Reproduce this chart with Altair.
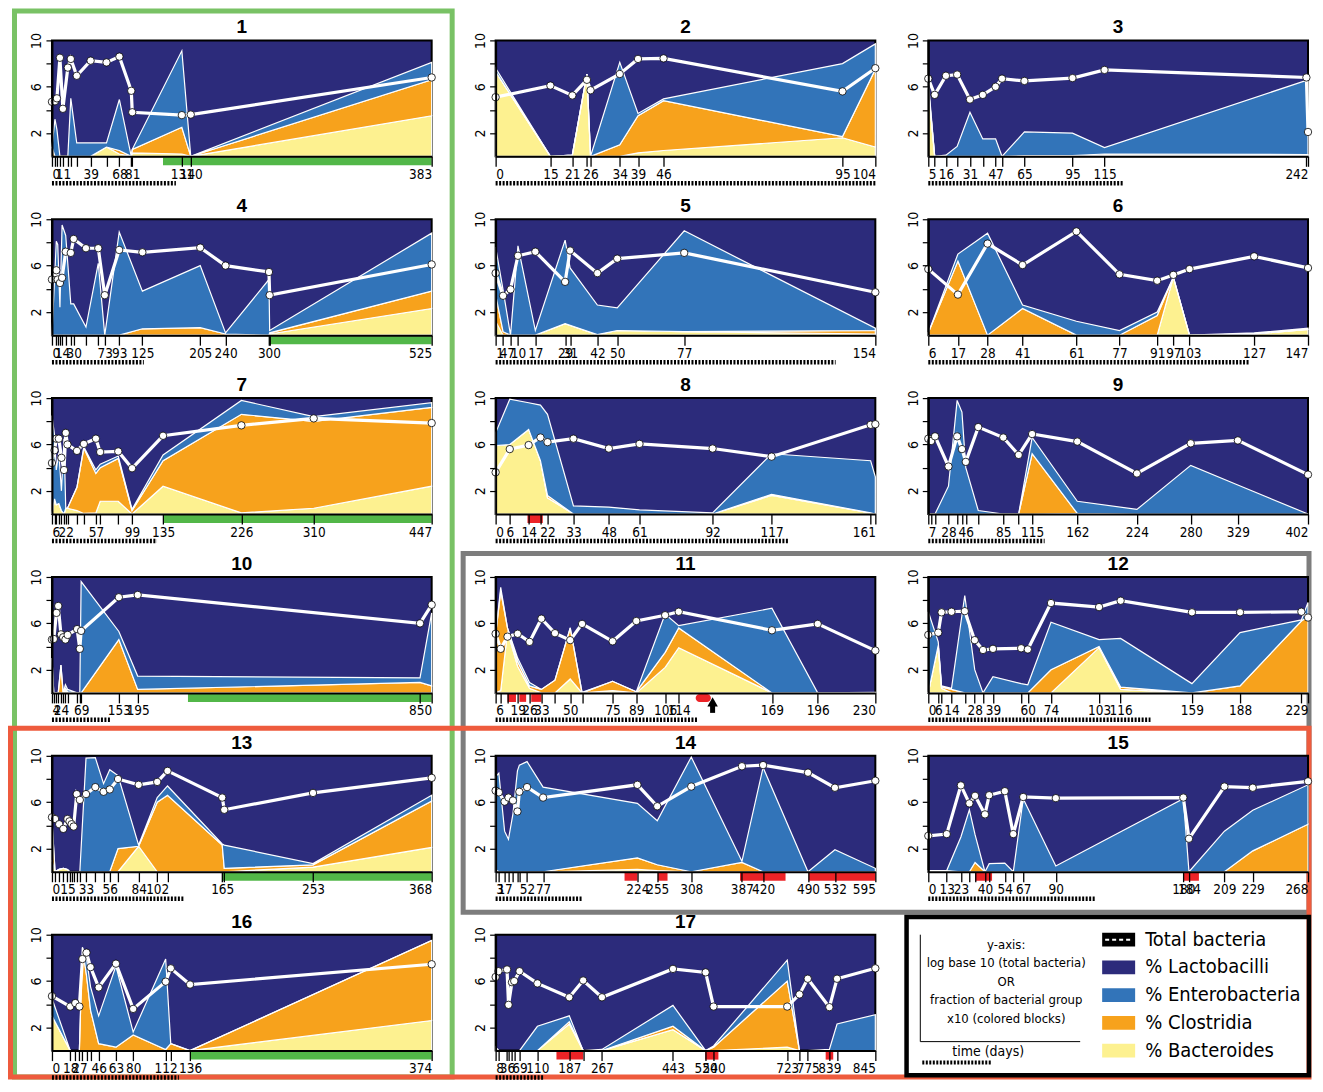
import altair as alt
import pandas as pd

NAVY = "#2c2b7b"
BLUE = "#3274b9"
ORANGE = "#f7a21c"
YELLOW = "#fdf190"
GREEN = "#52b748"
RED = "#ec2327"
BOX_GREEN = "#79c265"
BOX_RED = "#ee5b3d"
BOX_GRAY = "#7d7d7d"
FONT = "Liberation Sans Narrow, Arial Narrow, DejaVu Sans Condensed, Liberation Sans, sans-serif"
TFONT = "Liberation Sans, Arial, sans-serif"

W, H = 380, 116
EXTRA1 = 11          # extra empty room to the right of the first column
COL_GAP, ROW_GAP = 53, 63
DASH_Y = H + 27

# ---------------- data ----------------
P1_DAYS = [0, 3, 5, 8, 11, 16, 19, 25, 39, 55, 68, 80, 81, 131, 140, 383]
P1_TOTAL = [4.7, 4.75, 5.0, 8.5, 4.1, 7.65, 8.4, 6.95, 8.25, 8.1, 8.6, 5.65, 3.8, 3.55, 3.6, 6.8]
P1_BAC = [0, 0, 0, 0, 0, 0, 0, 0, 0, 0.8, 0.2, 0, 0.3, 0.2, 0, 3.5]
P1_CLO = [0.8, 0, 0, 0, 0, 0, 0, 0, 0, 0, 0.3, 0, 0.3, 2.3, 0, 3.1]
P1_ENT = [0, 3.2, 2.3, 0, 0, 0, 5.0, 1.15, 1.15, 0.35, 4.4, 0, 0, 6.6, 0, 1.5]
P1_LABELS = [0, 11, 39, 68, 81, 131, 140, 383]
P1_GREEN = [(112, 383)]
P1_DASH = 125

P2_DAYS = [0, 15, 21, 25, 26, 34, 39, 46, 95, 104]
P2_TOTAL = [5.1, 6.1, 5.25, 6.6, 5.7, 7.1, 8.4, 8.45, 5.6, 7.6]
P2_BAC = [7.3, 0, 0.1, 7.1, 0, 0, 0.3, 0.5, 1.6, 0.8]
P2_CLO = [0, 0, 0, 0, 0, 1.0, 3.2, 4.3, 0.1, 6.7]
P2_ENT = [0.3, 0, 0, 0, 0, 7.1, 0.2, 0.15, 6.3, 2.2]
P2_LABELS = [0, 15, 21, 26, 34, 39, 46, 95, 104]
P2_DASH = 104

P3_DAYS = [5, 9, 16, 23, 31, 39, 47, 51, 65, 95, 115, 241, 242]
P3_TOTAL = [6.7, 5.3, 6.95, 7.05, 4.9, 5.3, 6.0, 6.7, 6.5, 6.75, 7.45, 6.8, 2.1]
P3_BAC = [6.0, 0, 0, 0, 0, 0, 0, 0, 0.05, 0.05, 0.05, 0.05, 0.05]
P3_CLO = [0, 0, 0, 0, 0, 0, 0, 0, 0, 0, 0.15, 0.1, 0.1]
P3_ENT = [0.5, 0, 0.1, 0.85, 3.8, 1.5, 1.5, 0, 2.05, 1.95, 0.55, 6.4, 6.4]
P3_LABELS = [5, 16, 31, 47, 65, 95, 115, 242]
P3_DASH = 127

P4_DAYS = [0, 6, 8, 11, 14, 19, 26, 30, 47, 64, 73, 93, 125, 205, 240, 300, 301, 525]
P4_TOTAL = [4.8, 5.6, 4.8, 4.5, 4.95, 7.2, 7.1, 8.3, 7.5, 7.5, 3.45, 7.35, 7.15, 7.55, 6.0, 5.45, 3.45, 6.1]
P4_BAC = [0, 0, 0, 0, 0, 0, 0, 0, 0, 0, 0, 0, 0, 0, 0, 0, 0.1, 2.3]
P4_CLO = [0, 0, 0, 0, 0, 0, 0, 0, 0, 0, 0, 0, 0.55, 0.65, 0.1, 0, 0.1, 1.5]
P4_ENT = [0, 8.1, 7.8, 2.4, 9.5, 8.6, 2.7, 2.7, 0.7, 6.2, 0, 8.9, 3.25, 5.35, 0.1, 4.8, 0.2, 5.0]
P4_LABELS = [0, 14, 30, 73, 93, 125, 205, 240, 300, 525]
P4_GREEN = [(300, 525)]
P4_DASH = 127

P5_DAYS = [1, 4, 7, 10, 17, 29, 31, 42, 50, 77, 154]
P5_TOTAL = [5.35, 3.4, 3.95, 6.85, 7.2, 4.6, 7.3, 5.35, 6.6, 7.1, 3.7]
P5_BAC = [1.2, 0, 0, 0, 0, 1.0, 0.85, 0.05, 0.4, 0.3, 0.1]
P5_CLO = [2.3, 0.3, 0, 0, 0, 0, 0, 0, 0, 0, 0.3]
P5_ENT = [4.1, 3.6, 0, 7.7, 0.4, 7.2, 4.95, 2.55, 1.95, 8.7, 0.2]
P5_LABELS = [1, 4, 7, 10, 17, 29, 31, 42, 50, 77, 154]
P5_DASH = 138

P6_DAYS = [6, 17, 28, 41, 61, 77, 91, 97, 103, 127, 147]
P6_TOTAL = [5.7, 3.5, 7.9, 6.05, 8.95, 5.25, 4.7, 5.2, 5.7, 6.8, 5.8]
P6_BAC = [0, 0, 0, 0, 0, 0, 0, 5.0, 0, 0.1, 0.5]
P6_CLO = [0.2, 6.4, 0, 2.3, 0, 0, 1.7, 0, 0, 0, 0]
P6_ENT = [0, 0.6, 8.8, 0.3, 1.2, 0.4, 0.3, 0, 0, 0.1, 0.1]
P6_LABELS = [6, 17, 28, 41, 61, 77, 91, 97, 103, 127, 147]
P6_DASH = 125

P7_DAYS = [6, 9, 11, 14, 17, 20, 22, 24, 35, 43, 57, 62, 83, 99, 135, 226, 310, 447]
P7_TOTAL = [4.4, 5.5, 6.5, 6.5, 4.85, 3.8, 7.0, 6.0, 5.45, 6.05, 6.5, 5.35, 5.4, 3.95, 6.75, 7.65, 8.25, 7.85]
P7_BAC = [0, 1.3, 0.8, 0.9, 0.3, 0, 0.5, 0.5, 0.3, 0.05, 0.1, 1.1, 1.1, 0, 2.4, 0.1, 0.5, 2.4]
P7_CLO = [0, 0, 0, 0, 0, 0, 0, 0, 2.0, 5.65, 3.4, 2.9, 3.7, 0.3, 2.2, 8.5, 7.5, 6.8]
P7_ENT = [8.5, 5.5, 3.0, 4.4, 1.7, 6.5, 0, 0, 0, 0.1, 0.3, 0.3, 0.2, 0.1, 0.5, 1.2, 0.4, 0.4]
P7_LABELS = [6, 22, 57, 99, 135, 226, 310, 447]
P7_GREEN = [(135, 447)]
P7_DASH = 128

P8_DAYS = [0, 6, 14, 19, 22, 33, 48, 61, 92, 117, 159, 161]
P8_TOTAL = [3.6, 5.6, 5.95, 6.6, 6.2, 6.5, 5.65, 6.05, 5.65, 4.95, 7.7, 7.75]
P8_BAC = [5.9, 6.0, 7.3, 4.6, 1.4, 0, 0, 0, 0, 1.6, 0.1, 0]
P8_CLO = [0, 0, 0, 0, 0.2, 0, 0, 0, 0, 0.1, 0, 0]
P8_ENT = [1.1, 3.9, 2.3, 4.8, 7.0, 0.7, 0.6, 0.35, 0.1, 3.5, 4.5, 3.2]
P8_LABELS = [0, 6, 14, 22, 33, 48, 61, 92, 117, 161]
P8_RED = [(13.5, 20)]
P8_DASH = 124

P9_DAYS = [7, 10, 14, 28, 37, 42, 46, 59, 85, 101, 115, 162, 224, 280, 329, 402]
P9_TOTAL = [6.5, 6.3, 6.7, 4.1, 6.7, 5.6, 4.5, 7.5, 6.6, 5.1, 6.9, 6.25, 3.5, 6.1, 6.35, 3.4]
P9_BAC = [0, 0, 0, 0, 0, 0, 0, 0, 0, 0, 0, 0.05, 0, 0, 0, 0]
P9_CLO = [0, 0, 0, 0, 0, 0, 0, 0, 0, 0, 5.2, 0, 0, 0, 0, 0]
P9_ENT = [0, 0, 0, 2.4, 9.8, 8.8, 4.0, 0.3, 0, 0, 1.4, 1.05, 0.4, 4.2, 2.5, 0]
P9_LABELS = [7, 28, 46, 85, 115, 162, 224, 280, 329, 402]
P9_DASH = 128

P10_DAYS = [4, 8, 14, 18, 24, 29, 34, 39, 60, 66, 69, 153, 195, 824, 850]
P10_TOTAL = [4.6, 4.65, 6.9, 7.5, 5.05, 4.8, 4.6, 5.0, 5.5, 3.8, 5.35, 8.25, 8.45, 6.0, 7.6]
P10_BAC = [0, 0, 0, 0, 0, 0, 0.2, 0, 0, 0, 0, 0, 0, 0, 0]
P10_CLO = [3.0, 0, 0, 0, 2.4, 0, 0.2, 0.1, 0, 0, 0, 4.6, 0.3, 0.9, 0.6]
P10_ENT = [0, 0, 0, 0, 0, 0, 0.3, 0.2, 0, 0, 9.6, 0.7, 1.15, 0.4, 6.3]
P10_LABELS = [4, 24, 69, 153, 195, 850]
P10_GREEN = [(307, 850)]
P10_DASH = 136

P11_DAYS = [6, 9, 13, 19, 26, 33, 41, 50, 57, 75, 89, 106, 114, 169, 196, 230]
P11_TOTAL = [5.1, 3.8, 4.85, 5.1, 4.4, 6.4, 5.15, 4.55, 5.95, 4.45, 6.2, 6.7, 7.0, 5.4, 5.95, 3.65]
P11_BAC = [0, 0.2, 5.3, 2.3, 0.4, 0, 0, 1.2, 0, 0.2, 0, 2.2, 3.9, 0, 0, 0]
P11_CLO = [5.0, 8.6, 0.3, 0.4, 0.2, 0.3, 1.1, 4.4, 0, 0.8, 0.1, 1.3, 1.7, 0, 0, 0]
P11_ENT = [0, 0.3, 0, 0.3, 0.3, 0, 0, 0, 0.05, 0, 0, 3.3, 0.2, 7.3, 0, 0.05]
P11_LABELS = [6, 19, 26, 33, 50, 75, 89, 106, 114, 169, 196, 230]
P11_RED = [(13, 18), (20, 24), (27, 33)]
P11_OVAL = (124, 133)
P11_ARROW = 134
P11_DASH = 125

P12_DAYS = [0, 6, 8, 14, 22, 28, 33, 39, 56, 60, 74, 103, 116, 159, 188, 225, 229]
P12_TOTAL = [5.0, 5.2, 6.95, 7.0, 7.05, 4.55, 3.7, 3.8, 3.85, 3.75, 7.75, 7.4, 7.95, 6.95, 6.95, 7.0, 6.5]
P12_BAC = [0, 4.1, 0.4, 0, 0, 0, 0, 0, 0, 0, 0, 3.9, 0.3, 0, 0, 0, 0]
P12_CLO = [0, 0, 0.1, 0.3, 0, 0, 0, 0, 0, 0, 2.0, 0.1, 0.2, 0, 0.6, 6.2, 6.6]
P12_ENT = [7.0, 0.3, 0.1, 0.1, 8.4, 2.0, 0, 1.4, 0.8, 0.7, 4.1, 0.6, 4.2, 0.8, 4.6, 0.1, 1.2]
P12_LABELS = [0, 6, 14, 28, 39, 60, 74, 103, 116, 159, 188, 229]
P12_DASH = 134

P13_DAYS = [0, 3, 7, 11, 15, 17, 19, 21, 24, 27, 33, 42, 50, 56, 64, 84, 102, 112, 165, 167, 253, 368]
P13_TOTAL = [4.7, 4.55, 4.1, 3.7, 4.55, 4.35, 4.1, 3.9, 6.7, 6.2, 6.7, 7.3, 6.9, 7.1, 8.0, 7.5, 7.75, 8.7, 6.4, 5.35, 6.8, 8.1]
P13_BAC = [1.0, 0, 0.2, 0.3, 0.2, 0, 0, 0, 0, 0, 0, 0, 0, 0, 0, 2.2, 0, 0, 0, 0, 0.4, 2.1]
P13_CLO = [3.5, 0, 0, 0, 0, 0, 0, 0, 0, 0, 0, 0, 0, 0, 2.0, 0, 6.0, 6.6, 2.3, 0.3, 0.2, 4.0]
P13_ENT = [0, 0, 0, 0, 0, 0, 0, 0, 0, 0, 9.8, 9.85, 7.6, 8.8, 6.3, 0.1, 0.4, 0.8, 0.1, 2.0, 0.1, 0.5]
P13_LABELS = [0, 15, 33, 56, 84, 102, 165, 253, 368]
P13_GREEN = [(165, 368)]
P13_DASH = 128

P14_DAYS = [3, 8, 17, 23, 30, 37, 40, 52, 77, 224, 255, 308, 387, 420, 490, 532, 595]
P14_TOTAL = [7.0, 6.85, 6.05, 6.4, 6.15, 5.2, 6.9, 7.3, 6.4, 7.5, 5.65, 7.35, 9.1, 9.2, 8.55, 7.25, 7.85]
P14_BAC = [0.2, 0, 0, 0, 0, 0, 0, 0, 0, 0.2, 0.1, 0, 0, 0, 0, 0, 0]
P14_CLO = [0, 0, 0, 0, 0, 0, 0, 0, 0, 1.0, 0.5, 0, 0.8, 0, 0, 0, 0]
P14_ENT = [8.0, 8.5, 3.5, 2.8, 5.0, 8.7, 9.2, 9.5, 7.3, 4.7, 3.8, 9.9, 0.1, 9.0, 0, 1.9, 0.3]
P14_LABELS = [3, 17, 52, 77, 224, 255, 308, 387, 420, 490, 532, 595]
P14_RED = [(204, 224), (256, 271), (384, 455), (491, 595)]
P14_DASH = 137

P15_DAYS = [0, 13, 23, 29, 33, 40, 43, 54, 60, 67, 90, 180, 184, 209, 229, 268]
P15_TOTAL = [3.1, 3.25, 7.45, 5.9, 6.55, 4.95, 6.6, 6.95, 3.25, 6.45, 6.35, 6.4, 2.85, 7.35, 7.25, 7.8]
P15_BAC = [0.1, 0.1, 0, 0, 0, 0, 0, 0, 0, 0, 0, 0, 0, 0, 0, 0]
P15_CLO = [0, 0, 0, 0, 0.8, 0, 0, 0, 0, 0, 0, 0, 0, 0, 1.8, 4.1]
P15_ENT = [0, 0, 3.0, 5.35, 2.4, 0, 0.7, 0.75, 0, 6.3, 0.5, 6.3, 0, 3.5, 3.5, 3.4]
P15_LABELS = [0, 13, 23, 40, 54, 67, 90, 180, 184, 209, 229, 268]
P15_RED = [(33, 45), (180, 191)]
P15_DASH = 118

P16_DAYS = [0, 18, 23, 27, 30, 34, 38, 46, 63, 80, 112, 117, 136, 374]
P16_TOTAL = [4.7, 3.8, 4.1, 3.8, 7.9, 8.45, 7.2, 5.45, 7.5, 3.6, 5.95, 7.1, 5.7, 7.45]
P16_BAC = [3.0, 0, 0, 0, 0, 0, 0, 0, 0, 0, 0, 0, 0, 2.6]
P16_CLO = [0, 0, 0, 0, 8.9, 6.5, 3.5, 0.6, 0.3, 1.35, 0.1, 0.6, 0, 6.9]
P16_ENT = [1.5, 0, 0, 0, 0, 1.5, 2.0, 2.4, 7.0, 0.25, 7.8, 0, 0, 0]
P16_LABELS = [0, 18, 27, 46, 63, 80, 112, 136, 374]
P16_GREEN = [(136, 374)]
P16_DASH = 125

P17_DAYS = [8, 15, 36, 40, 49, 55, 69, 110, 187, 221, 267, 443, 520, 540, 723, 754, 775, 839, 840, 845]
P17_TOTAL = [6.35, 6.85, 7.0, 3.95, 5.9, 6.0, 6.85, 5.8, 4.6, 6.05, 4.6, 7.05, 6.75, 3.8, 3.8, 4.85, 6.2, 3.75, 6.2, 7.1]
P17_BAC = [0.3, 0, 0, 0, 0, 0, 0, 0, 2.3, 0, 0, 1.8, 0, 0, 0.3, 0, 0, 0, 0, 0]
P17_CLO = [0, 0, 0, 0, 0, 0, 0, 0, 0.2, 0, 0, 0.3, 0, 0.3, 5.7, 0, 0, 0, 0, 0]
P17_ENT = [0, 0, 0, 0, 0, 0, 0, 2.1, 0.5, 0, 0.1, 1.8, 0, 0.1, 1.8, 0, 0, 0.1, 2.3, 3.1]
P17_LABELS = [8, 36, 69, 110, 187, 267, 443, 520, 540, 723, 775, 839, 845]
P17_RED = [(156, 221), (519, 552), (828, 839.5)]
P17_DASH = 126
# the time axis of panel 17 is not linear in the figure: break points of the axis
P17_BREAKS = [8, 36, 69, 110, 187, 267, 443, 520, 540, 723, 775, 839, 845]
P17_BREAK_FRAC = [0.0, 0.030, 0.063, 0.110, 0.194, 0.280, 0.467, 0.553, 0.574, 0.768, 0.822, 0.879, 1.0]

LEGEND_LABELS = ["Total bacteria", "% Lactobacilli", "% Enterobacteria", "% Clostridia", "% Bacteroides"]
LEGEND_COLORS = ["black", NAVY, BLUE, ORANGE, YELLOW]
NOTE_LINES = ["y-axis:", "log base 10 (total bacteria)", "OR", "fraction of bacterial group", "x10 (colored blocks)"]
TIME_NOTE = "time (days)"

ONE = pd.DataFrame({"k": [0]})

YSCALE = alt.Scale(domain=[0, 10], nice=False, zero=False)
YAXIS = alt.Axis(values=[2, 4, 6, 8, 10], labelExpr="datum.value % 4 == 2 ? datum.label : ''",
                 labelAngle=270, labelAlign="center", labelBaseline="bottom", labelFontSize=14,
                 labelFont=FONT, labelPadding=2, tickSize=6, tickWidth=1.2, tickColor="black",
                 domainColor="black", domainWidth=2, grid=False, title=None, zindex=1,
                 labelColor="black")


def frame(x, x2, y, y2, color, sw):
    return alt.Chart(ONE).mark_rect(filled=False, color=color, strokeWidth=sw).encode(
        x=alt.value(x), x2=alt.value(x2), y=alt.value(y), y2=alt.value(y2))


def make_panel(num, days, total, bac, clo, ent, labels, dash_end, green=(), red=(),
               xscale=None, oval=None, arrow=None, deco=(), cell_w=W):
    n = len(days)
    t1 = list(bac)
    t2 = [b + c for b, c in zip(bac, clo)]
    t3 = [b + c + e for b, c, e in zip(bac, clo, ent)]
    df = pd.DataFrame({"day": days, "total": total, "t0": [0.0] * n, "t1": t1,
                       "t2": t2, "t3": t3, "idx": list(range(n))})
    if xscale is None:
        xscale = alt.Scale(domain=[days[0], days[-1]], range=[0, W], nice=False, zero=False)
    ticks = sorted(set(days))
    xaxis = alt.Axis(values=ticks, format="d",
                     labelExpr=f"indexof({list(labels)}, datum.value) >= 0 ? datum.label : ''",
                     grid=False, tickSize=10, tickWidth=1.3, tickColor="black",
                     domainColor="black", domainWidth=2, labelFontSize=13.5, labelFont=FONT,
                     labelPadding=1, labelOverlap=False, title=None, zindex=1, labelColor="black")

    def X(f):
        return alt.X(f"{f}:Q", scale=xscale, axis=xaxis)

    def Y(f):
        return alt.Y(f"{f}:Q", scale=YSCALE, axis=YAXIS)

    base = alt.Chart(df)
    layers = [
        # plot background (remaining share = Lactobacilli) and frame
        alt.Chart(ONE).mark_rect(color=NAVY, stroke="black", strokeWidth=2).encode(
            x=alt.value(0), x2=alt.value(W), y=alt.value(0), y2=alt.value(H)),
        base.mark_area(color=YELLOW, stroke="white", strokeWidth=1.2).encode(
            x=X("day"), y=Y("t0"), y2=alt.Y2("t1")),
        base.mark_area(color=ORANGE, stroke="white", strokeWidth=1.2).encode(
            x=X("day"), y=Y("t1"), y2=alt.Y2("t2")),
        base.mark_area(color=BLUE, stroke="white", strokeWidth=1.2).encode(
            x=X("day"), y=Y("t2"), y2=alt.Y2("t3")),
    ]
    bars = [(s, e, GREEN) for s, e in green] + [(s, e, RED) for s, e in red]
    if bars:
        bdf = pd.DataFrame({"s": [b[0] for b in bars], "e": [b[1] for b in bars],
                            "c": [b[2] for b in bars]})
        layers.append(alt.Chart(bdf).mark_rect().encode(
            x=X("s"), x2=alt.X2("e"), y=alt.value(H + 1), y2=alt.value(H + 9),
            color=alt.Color("c:N", scale=None)))
    if oval is not None:
        odf = pd.DataFrame({"s": [oval[0]], "e": [oval[1]]})
        layers.append(alt.Chart(odf).mark_rect(color=RED, cornerRadius=4).encode(
            x=X("s"), x2=alt.X2("e"), y=alt.value(H + 1), y2=alt.value(H + 9)))
    if arrow is not None:
        adf = pd.DataFrame({"s": [arrow]})
        layers.append(alt.Chart(adf).mark_point(shape="triangle-up", filled=True, color="black",
                                                size=110, opacity=1).encode(
            x=X("s"), y=alt.value(H + 9)))
        layers.append(alt.Chart(adf).mark_rule(color="black", strokeWidth=5).encode(
            x=X("s"), y=alt.value(H + 13), y2=alt.value(H + 20)))
    ddf = pd.DataFrame({"s": [days[0]], "e": [dash_end]})
    layers.append(alt.Chart(ddf).mark_rule(color="black", strokeWidth=4.5,
                                           strokeDash=[2, 1.5]).encode(
        x=X("s"), x2=alt.X2("e"), y=alt.value(DASH_Y)))
    layers.append(base.mark_line(color="white", strokeWidth=3.2).encode(
        x=X("day"), y=Y("total"), order=alt.Order("idx:Q")))
    layers.append(base.mark_circle(color="white", stroke="black", strokeWidth=0.8,
                                   size=55, opacity=1).encode(x=X("day"), y=Y("total")))
    # panel number
    layers.append(alt.Chart(pd.DataFrame({"n": [str(num)]})).mark_text(
        font=TFONT, fontSize=19, fontWeight="bold", color="black", baseline="bottom").encode(
        x=alt.value(W / 2), y=alt.value(-3), text="n:N"))
    for d in deco:
        layers.append(frame(*d))
    return alt.layer(*layers).properties(width=cell_w, height=H)


def make_legend():
    ldf = pd.DataFrame({"label": LEGEND_LABELS, "color": LEGEND_COLORS})
    yl = alt.Y("label:N", sort=LEGEND_LABELS, axis=None,
               scale=alt.Scale(range=[5, 116], padding=0))
    layers = [
        frame(-21.75, 381, -17.75, 140.75, "black", 4.5),
        alt.Chart(ONE).mark_rule(color="black", strokeWidth=1).encode(
            x=alt.value(-8), y=alt.value(0), y2=alt.value(107)),
        alt.Chart(ONE).mark_rule(color="black", strokeWidth=1).encode(
            x=alt.value(-8), x2=alt.value(152), y=alt.value(107)),
        alt.Chart(ONE).mark_rule(color="black", strokeWidth=4, strokeDash=[2, 1.5]).encode(
            x=alt.value(-6), x2=alt.value(63), y=alt.value(128)),
        alt.Chart(ONE).mark_text(font=FONT, fontSize=14, color="black").encode(
            x=alt.value(60), y=alt.value(117), text=alt.value(TIME_NOTE)),
    ]
    for i, line in enumerate(NOTE_LINES):
        layers.append(alt.Chart(ONE).mark_text(font=FONT, fontSize=13, color="black").encode(
            x=alt.value(78), y=alt.value(10 + i * 18.6), text=alt.value(line)))
    layers.append(alt.Chart(ldf).mark_point(
        shape="M-1,-0.42L1,-0.42L1,0.42L-1,0.42Z", filled=True, size=1089, opacity=1).encode(
        x=alt.value(190.5), y=yl, color=alt.Color("color:N", scale=None)))
    layers.append(alt.Chart(ONE).mark_rule(color="white", strokeWidth=2, strokeDash=[4, 3]).encode(
        x=alt.value(177), x2=alt.value(204), y=alt.value(5)))
    layers.append(alt.Chart(ldf).mark_text(align="left", baseline="middle", fontSize=20,
                                           font=FONT, color="black").encode(
        x=alt.value(217), y=yl, text="label:N"))
    return alt.layer(*layers).properties(width=W, height=H)


p17_scale = alt.Scale(domain=P17_BREAKS, range=[f * W for f in P17_BREAK_FRAC], nice=False, zero=False)
C1 = W + EXTRA1

panels = [
    make_panel(1, P1_DAYS, P1_TOTAL, P1_BAC, P1_CLO, P1_ENT, P1_LABELS, P1_DASH, green=P1_GREEN,
               deco=[(-37.5, 400.5, -29.5, 1037.5, BOX_GREEN, 5)], cell_w=C1),
    make_panel(2, P2_DAYS, P2_TOTAL, P2_BAC, P2_CLO, P2_ENT, P2_LABELS, P2_DASH),
    make_panel(3, P3_DAYS, P3_TOTAL, P3_BAC, P3_CLO, P3_ENT, P3_LABELS, P3_DASH),
    make_panel(4, P4_DAYS, P4_TOTAL, P4_BAC, P4_CLO, P4_ENT, P4_LABELS, P4_DASH, green=P4_GREEN,
               cell_w=C1),
    make_panel(5, P5_DAYS, P5_TOTAL, P5_BAC, P5_CLO, P5_ENT, P5_LABELS, P5_DASH),
    make_panel(6, P6_DAYS, P6_TOTAL, P6_BAC, P6_CLO, P6_ENT, P6_LABELS, P6_DASH),
    make_panel(7, P7_DAYS, P7_TOTAL, P7_BAC, P7_CLO, P7_ENT, P7_LABELS, P7_DASH, green=P7_GREEN,
               cell_w=C1),
    make_panel(8, P8_DAYS, P8_TOTAL, P8_BAC, P8_CLO, P8_ENT, P8_LABELS, P8_DASH, red=P8_RED),
    make_panel(9, P9_DAYS, P9_TOTAL, P9_BAC, P9_CLO, P9_ENT, P9_LABELS, P9_DASH),
    make_panel(10, P10_DAYS, P10_TOTAL, P10_BAC, P10_CLO, P10_ENT, P10_LABELS, P10_DASH, green=P10_GREEN,
               cell_w=C1),
    make_panel(11, P11_DAYS, P11_TOTAL, P11_BAC, P11_CLO, P11_ENT, P11_LABELS, P11_DASH, red=P11_RED,
               oval=P11_OVAL, arrow=P11_ARROW,
               deco=[(-32.5, 814, -23.5, 335.5, BOX_GRAY, 5)]),
    make_panel(12, P12_DAYS, P12_TOTAL, P12_BAC, P12_CLO, P12_ENT, P12_LABELS, P12_DASH),
    make_panel(13, P13_DAYS, P13_TOTAL, P13_BAC, P13_CLO, P13_ENT, P13_LABELS, P13_DASH, green=P13_GREEN,
               deco=[(-41.5, 1258, -27.5, 321.5, BOX_RED, 5)], cell_w=C1),
    make_panel(14, P14_DAYS, P14_TOTAL, P14_BAC, P14_CLO, P14_ENT, P14_LABELS, P14_DASH, red=P14_RED),
    make_panel(15, P15_DAYS, P15_TOTAL, P15_BAC, P15_CLO, P15_ENT, P15_LABELS, P15_DASH, red=P15_RED),
    make_panel(16, P16_DAYS, P16_TOTAL, P16_BAC, P16_CLO, P16_ENT, P16_LABELS, P16_DASH, green=P16_GREEN,
               cell_w=C1),
    make_panel(17, P17_DAYS, P17_TOTAL, P17_BAC, P17_CLO, P17_ENT, P17_LABELS, P17_DASH, red=P17_RED,
               xscale=p17_scale),
    make_legend(),
]

chart = alt.concat(*panels, columns=3, spacing={"row": ROW_GAP, "column": COL_GAP},
                   bounds="flush").properties(padding=0, background="white").configure(
    font=TFONT).configure_view(fill="transparent", stroke="transparent", strokeWidth=0)

chart.save("out.html", embed_options={"renderer": "svg", "actions": False})
